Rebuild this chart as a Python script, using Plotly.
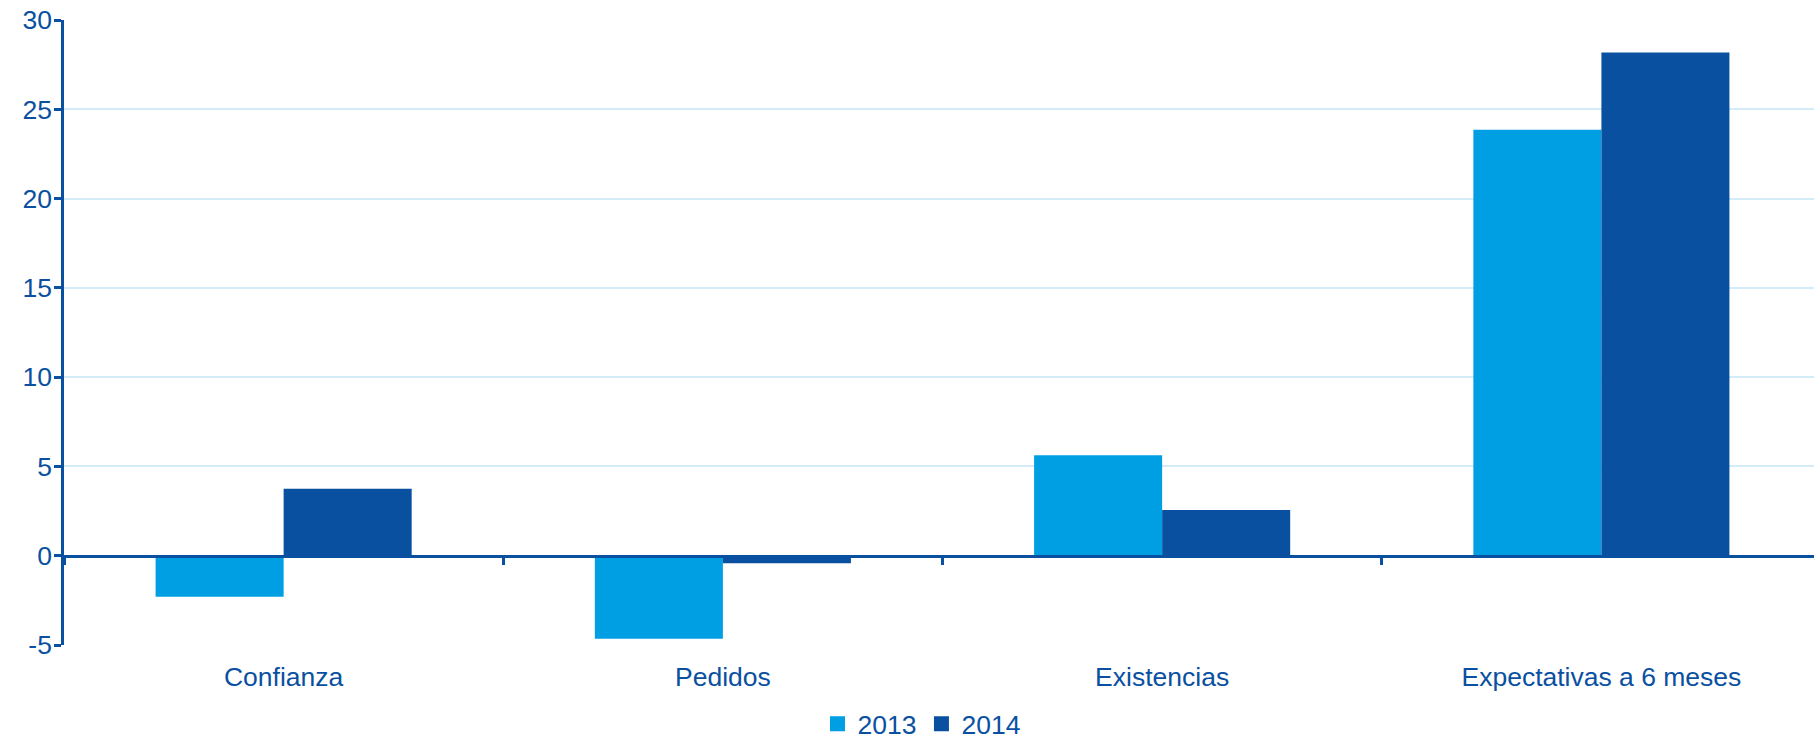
import plotly.graph_objects as go

categories = ["Confianza", "Pedidos", "Existencias", "Expectativas a 6 meses"]
series_names = ["2013", "2014"]
values_2013 = [-2.3, -4.65, 5.63, 23.85]
values_2014 = [3.75, -0.42, 2.56, 28.18]
y_ticks = [-5, 0, 5, 10, 15, 20, 25, 30]
y_tick_labels = ["-5", "0", "5", "10", "15", "20", "25", "30"]

c2013 = "#009FE3"
c2014 = "#0A50A1"
txt = "#0A50A1"
grid = "#D3EDF8"
font_family = "Liberation Sans, Arial, sans-serif"
fs = 26.5

fig = go.Figure()
fig.add_trace(go.Bar(x=categories, y=values_2013, name=series_names[0], showlegend=False,
                     marker=dict(color=c2013, line=dict(width=0))))
fig.add_trace(go.Bar(x=categories, y=values_2014, name=series_names[1], showlegend=False,
                     marker=dict(color=c2014, line=dict(width=0))))
# legend entries with square symbols
for nm, col in zip(series_names, [c2013, c2014]):
    fig.add_trace(go.Scatter(x=[categories[0]], y=[None], name=nm, mode="markers",
                             marker=dict(symbol="square", size=15, color=col),
                             hoverinfo="skip"))
# helper trace to host the axis drawn at zero
fig.add_trace(go.Scatter(x=categories, y=[None] * len(categories), xaxis="x2",
                         showlegend=False, hoverinfo="skip", mode="lines"))

xr = [-0.5, 3.484]
fig.update_layout(
    width=1814, height=740,
    margin=dict(l=64, r=0, t=20, b=95, autoexpand=False),
    paper_bgcolor="white", plot_bgcolor="white",
    font=dict(family=font_family, size=fs, color=txt),
    barmode="group", bargap=0.417, bargroupgap=0,
    showlegend=True,
    legend=dict(orientation="h", x=0.49, xanchor="center", y=-0.1264, yanchor="middle",
                font=dict(size=fs, color=txt), itemwidth=30, tracegroupgap=0,
                itemsizing="trace", bgcolor="rgba(0,0,0,0)", borderwidth=0),
    xaxis=dict(type="category", categoryorder="array", categoryarray=categories,
               range=xr, showline=False, showgrid=False, zeroline=False,
               ticks="outside", ticklen=8, tickcolor="rgba(0,0,0,0)",
               tickfont=dict(size=fs, color=txt)),
    xaxis2=dict(type="category", categoryorder="array", categoryarray=categories,
                range=xr, overlaying="x", anchor="free", position=5 / 35,
                showline=True, linecolor=txt, linewidth=2.5,
                ticks="outside", tickson="boundaries", ticklen=8, tickwidth=2.5,
                tickcolor=txt, showticklabels=False, showgrid=False, zeroline=False),
    yaxis=dict(range=[-5, 30], tickvals=y_ticks, ticktext=y_tick_labels,
               showgrid=True, gridcolor=grid,
               gridwidth=1.5, zeroline=False, showline=True, linecolor=txt,
               linewidth=2.5, ticks="outside", ticklen=7, tickwidth=2.5, tickcolor=txt,
               ticklabelstandoff=-3,
               tickfont=dict(size=fs, color=txt)),
)

fig.write_html("out.html")
